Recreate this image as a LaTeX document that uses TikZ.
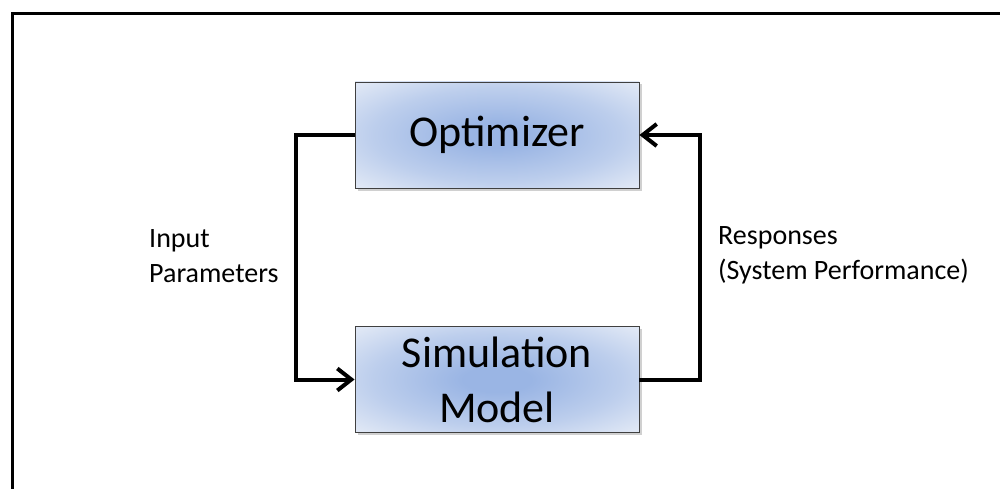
\documentclass[tikz,border=0pt]{standalone}
\usepackage{fontspec}
\setmainfont{Carlito}
\usetikzlibrary{arrows.meta,shadows}
\definecolor{boxin}{HTML}{9AB5E4}
\definecolor{boxout}{HTML}{DFE7F5}
\definecolor{boxline}{HTML}{404040}
\pgfdeclareradialshading{boxshade}{\pgfpoint{0bp}{0bp}}{color(0bp)=(boxin); color(6bp)=(boxin); color(22bp)=(boxin!50!boxout); color(34bp)=(boxout); color(50bp)=(boxout)}
\tikzset{
  blockbox/.style={draw=boxline, line width=0.9pt, shading=boxshade,
    minimum width=284pt, minimum height=106pt, align=center, inner sep=0pt,
    font=\fontsize{44}{55}\selectfont,
    drop shadow={shadow xshift=2.5pt, shadow yshift=-2.5pt, opacity=0.3, fill=black!60}},
  conn/.style={line width=4pt, -{Straight Barb[length=14pt,width=22pt]}},
  lbl/.style={align=left, inner sep=0pt, font=\fontsize{28}{35}\selectfont}
}
\begin{document}
\begin{tikzpicture}[x=1pt,y=-1pt]
\useasboundingbox (0,0) rectangle (1000,489);
\fill[white] (0,0) rectangle (1000,489);
\draw[line width=3.5pt] (12.5,489) -- (12.5,13.5) -- (1000,13.5);
\node[blockbox] (opt) at (497,135) {Optimizer};
\node[blockbox] (sim) at (497,379.5) {Simulation\\Model};
\draw[conn] (opt.west) -- ++(-59,0) |- (sim.west);
\draw[conn] (sim.east) -- ++(61,0) |- (opt.east);
\node[lbl, anchor=base west] (inp) at (149,282) {Input\\Parameters};
\node[lbl, anchor=base west] (resp) at (718,279) {Responses\\(System Performance)};
\end{tikzpicture}
\end{document}
